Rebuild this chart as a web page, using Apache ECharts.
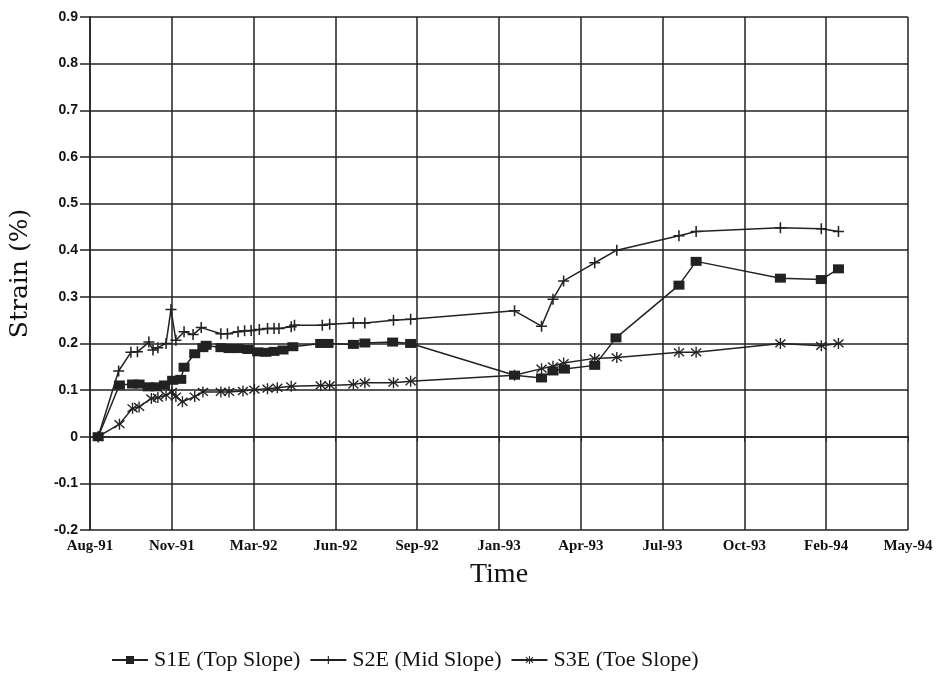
<!DOCTYPE html>
<html>
<head>
<meta charset="utf-8">
<title>Strain vs Time</title>
<script src="https://cdn.jsdelivr.net/npm/echarts@6/dist/echarts.min.js"></script>
<style>
    html, body { margin: 0; padding: 0; background: #fff; }
    #chart { width: 940px; height: 675px; }
</style>
</head>
<body>
<div id="chart"></div>
<script>
// x positions are in axis tick units (0 = Aug-91, 1 = Nov-91, ...)
var tickLabels = ['Aug-91', 'Nov-91', 'Mar-92', 'Jun-92', 'Sep-92', 'Jan-93',
    'Apr-93', 'Jul-93', 'Oct-93', 'Feb-94', 'May-94'];

var seriesNames = ['S1E (Top Slope)', 'S2E (Mid Slope)', 'S3E (Toe Slope)'];

var s1Time = [0.10, 0.36, 0.52, 0.60, 0.71, 0.81, 0.91, 1.01, 1.11, 1.15, 1.28, 1.38, 1.42,
    1.60, 1.70, 1.81, 1.93, 2.05, 2.15, 2.25, 2.36, 2.48, 2.82, 2.91, 3.22, 3.36, 3.70, 3.92,
    5.19, 5.52, 5.66, 5.80, 6.17, 6.43, 7.20, 7.41, 8.44, 8.94, 9.15];
var s1Strain = [0, 0.111, 0.113, 0.113, 0.107, 0.107, 0.111, 0.121, 0.123, 0.149, 0.178, 0.191, 0.196,
    0.191, 0.189, 0.189, 0.187, 0.182, 0.181, 0.183, 0.186, 0.193, 0.200, 0.200, 0.198, 0.201, 0.203, 0.200,
    0.132, 0.126, 0.141, 0.145, 0.153, 0.212, 0.325, 0.376, 0.340, 0.337, 0.360];

var s2Time = [0.10, 0.35, 0.50, 0.58, 0.72, 0.77, 0.83, 0.93, 0.99, 1.05, 1.15, 1.26, 1.36,
    1.60, 1.68, 1.81, 1.89, 1.97, 2.07, 2.17, 2.25, 2.31, 2.46, 2.50, 2.84, 2.93, 3.22, 3.36, 3.71, 3.92,
    5.19, 5.52, 5.66, 5.79, 6.17, 6.44, 7.20, 7.41, 8.44, 8.94, 9.15];
var s2Strain = [0, 0.141, 0.181, 0.182, 0.203, 0.186, 0.191, 0.200, 0.273, 0.207, 0.225, 0.219, 0.234,
    0.221, 0.221, 0.225, 0.227, 0.228, 0.230, 0.232, 0.232, 0.232, 0.236, 0.239, 0.239, 0.241, 0.244, 0.244, 0.250, 0.252,
    0.270, 0.237, 0.295, 0.334, 0.373, 0.400, 0.431, 0.440, 0.448, 0.446, 0.440];

var s3Time = [0.10, 0.36, 0.52, 0.60, 0.75, 0.83, 0.93, 1.00, 1.05, 1.13, 1.28, 1.38,
    1.60, 1.70, 1.87, 2.01, 2.17, 2.29, 2.46, 2.82, 2.93, 3.22, 3.36, 3.71, 3.92,
    5.19, 5.52, 5.66, 5.79, 6.17, 6.44, 7.20, 7.41, 8.44, 8.94, 9.15];
var s3Strain = [0, 0.027, 0.061, 0.064, 0.082, 0.084, 0.089, 0.096, 0.086, 0.075, 0.086, 0.096,
    0.096, 0.096, 0.098, 0.101, 0.103, 0.105, 0.108, 0.110, 0.110, 0.112, 0.116, 0.116, 0.119,
    0.132, 0.146, 0.151, 0.158, 0.168, 0.170, 0.181, 0.181, 0.200, 0.195, 0.200];

(function () {
    "use strict";

    var INK = '#222',
        SERIF = '"Liberation Serif", "DejaVu Serif", serif',
        WIDE_SERIF = '"DejaVu Serif", serif',
        SANS = '"Liberation Sans", Arial, sans-serif',
        // plus and asterisk marks drawn as thin filled bars
        PLUS = 'path://M4.3,0H5.7V4.3H10V5.7H5.7V10H4.3V5.7H0V4.3H4.3Z',
        STAR = 'path://M4.4,0H5.6V4.2L8.9,1L9.8,1.9L6.4,5L9.8,8.1L8.9,9L5.6,5.8V10H4.4V5.8L1.1,9L0.2,8.1L3.6,5L0.2,1.9L1.1,1L4.4,4.2Z';

    var pair = function (xs, ys) {
        var out = [], i;
        for (i = 0; i < xs.length; i++) {
            out.push([xs[i], ys[i]]);
        }
        return out;
    };

    var makeSeries = function (name, data, symbol, size) {
        return {
            name: name,
            type: 'line',
            data: data,
            symbol: symbol,
            symbolSize: size,
            showAllSymbol: true,
            animation: false,
            lineStyle: {color: INK, width: 1.5},
            itemStyle: {color: INK, borderWidth: 0}
        };
    };

    var myChart = echarts.init(document.getElementById('chart'), null, {renderer: 'canvas'});

    myChart.setOption({
        backgroundColor: '#fff',
        animation: false,
        grid: {left: 89, right: 32, top: 17, bottom: 145, containLabel: false},
        xAxis: {
            type: 'value',
            min: 0,
            max: 10,
            interval: 1,
            name: 'Time',
            nameLocation: 'middle',
            nameGap: 31,
            nameTextStyle: {fontFamily: SERIF, fontSize: 28, color: '#111'},
            axisLine: {lineStyle: {color: INK, width: 1.5}},
            axisTick: {show: true, length: 5, lineStyle: {color: INK}},
            splitLine: {show: true, lineStyle: {color: INK, width: 1.5}},
            axisLabel: {
                color: '#111',
                fontFamily: SERIF,
                fontWeight: 'bold',
                fontSize: 15,
                margin: 9,
                formatter: function (v) {
                    return tickLabels[Math.round(v)] || '';
                }
            }
        },
        yAxis: {
            type: 'value',
            min: -0.2,
            max: 0.9,
            interval: 0.1,
            name: 'Strain (%)',
            nameLocation: 'middle',
            nameGap: 57,
            nameTextStyle: {fontFamily: WIDE_SERIF, fontSize: 25, color: '#111'},
            axisLine: {show: true, lineStyle: {color: INK, width: 1.5}},
            axisTick: {show: true, length: 10, lineStyle: {color: INK, width: 1.5}},
            splitLine: {show: true, lineStyle: {color: INK, width: 1.5}},
            axisLabel: {
                color: '#111',
                fontFamily: SANS,
                fontWeight: 'bold',
                fontSize: 14,
                margin: 12,
                formatter: function (v) {
                    var r = Math.round(v * 10) / 10;
                    return r === 0 ? '0' : r.toFixed(1);
                }
            }
        },
        legend: {
            left: 106,
            top: 644,
            itemWidth: 36,
            itemHeight: 10,
            itemGap: 9,
            textStyle: {fontFamily: SERIF, fontSize: 22, color: '#111', padding: [0, 0, 0, 1]},
            data: seriesNames
        },
        series: [
            makeSeries(seriesNames[0], pair(s1Time, s1Strain), 'rect', [11, 9]),
            makeSeries(seriesNames[1], pair(s2Time, s2Strain), PLUS, 11),
            makeSeries(seriesNames[2], pair(s3Time, s3Strain), STAR, 11)
        ]
    });
})();
</script>
</body>
</html>
